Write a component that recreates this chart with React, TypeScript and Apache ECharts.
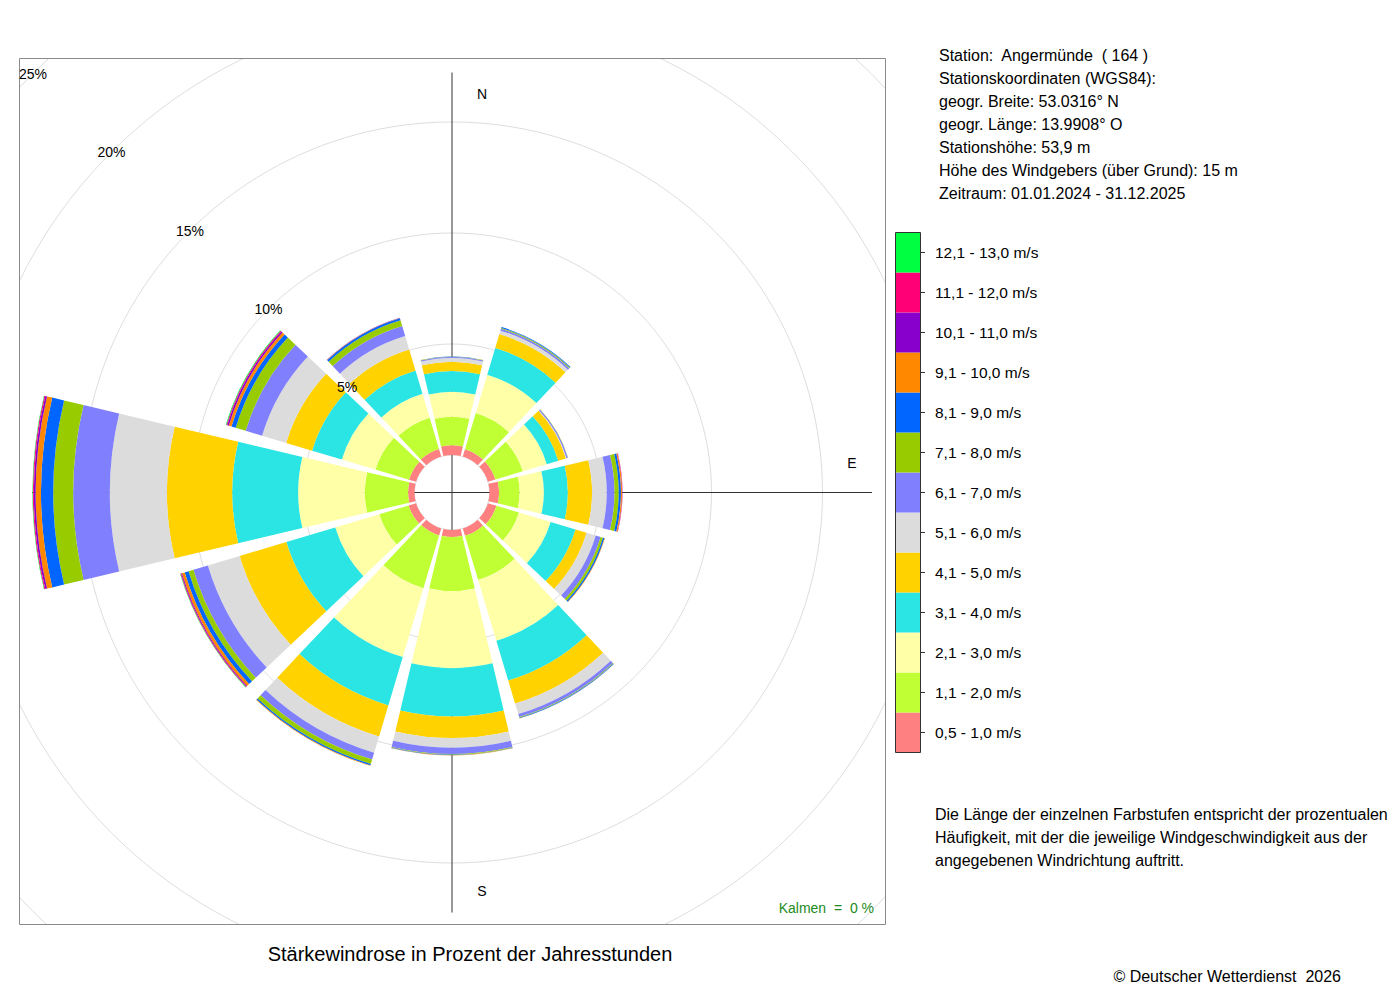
import React, { useEffect, useRef } from "react";
import * as echarts from "echarts";

// ---- data ----
const directions = ["N", "NNO", "ONO", "O", "OSO", "SSO", "S", "SSW", "WSW", "W", "WNW", "NNW"];

const speedLabels = [
  "0,5 - 1,0 m/s",
  "1,1 - 2,0 m/s",
  "2,1 - 3,0 m/s",
  "3,1 - 4,0 m/s",
  "4,1 - 5,0 m/s",
  "5,1 - 6,0 m/s",
  "6,1 - 7,0 m/s",
  "7,1 - 8,0 m/s",
  "8,1 - 9,0 m/s",
  "9,1 - 10,0 m/s",
  "10,1 - 11,0 m/s",
  "11,1 - 12,0 m/s",
  "12,1 - 13,0 m/s",
];

const speedColors = [
  "#FF8080",
  "#BFFF33",
  "#FFFFA8",
  "#2BE5E5",
  "#FFD200",
  "#DCDCDC",
  "#8080FF",
  "#99CC00",
  "#0066FF",
  "#FF8800",
  "#8800CC",
  "#FF0077",
  "#00FF40",
];

// percent of hours per direction (N, NNO, ONO, O, OSO, SSO, S, SSW, WSW, W, WNW, NNW)
const v05_10 = [0.44, 0.35, 0.35, 0.43, 0.4, 0.35, 0.31, 0.33, 0.35, 0.29, 0.33, 0.36];
const v11_20 = [1.28, 1.7, 1.29, 0.93, 1.06, 2.07, 2.44, 2.48, 1.38, 1.95, 1.58, 1.46];
const v21_30 = [1.13, 1.8, 1.13, 1.09, 1.49, 2.86, 3.47, 3.24, 2.07, 3.0, 1.58, 1.13];
const v31_40 = [0.93, 1.26, 0.54, 1.08, 1.17, 1.87, 2.18, 2.27, 2.3, 2.97, 1.4, 1.1];
const v41_50 = [0.42, 0.65, 0.36, 1.09, 0.52, 1.08, 0.97, 1.46, 2.2, 2.94, 1.22, 0.99];
const v51_60 = [0.18, 0.16, 0.03, 0.66, 0.43, 0.5, 0.43, 0.77, 1.49, 2.57, 1.13, 0.63];
const v61_70 = [0.04, 0.09, 0.06, 0.35, 0.23, 0.14, 0.29, 0.32, 0.68, 1.65, 0.77, 0.47];
const v71_80 = [0.02, 0.04, 0.01, 0.19, 0.11, 0.03, 0.03, 0.2, 0.23, 0.9, 0.47, 0.27];
const v81_90 = [0.01, 0.04, 0.0, 0.1, 0.07, 0.03, 0.02, 0.07, 0.18, 0.55, 0.2, 0.09];
const v91_100 = [0, 0, 0, 0.05, 0.02, 0.01, 0.01, 0.02, 0.13, 0.24, 0.13, 0.02];
const v101_110 = [0, 0, 0, 0.01, 0, 0, 0, 0, 0.04, 0.08, 0.07, 0.01];
const v111_120 = [0, 0, 0, 0.01, 0, 0, 0, 0, 0.03, 0.045, 0.04, 0];
const v121_130 = [0, 0, 0, 0, 0, 0, 0, 0, 0.02, 0.02, 0.03, 0];

const speedSeries = [
  v05_10, v11_20, v21_30, v31_40, v41_50, v51_60, v61_70,
  v71_80, v81_90, v91_100, v101_110, v111_120, v121_130,
];

const percentTicks = [5, 10, 15, 20, 25];

const stationLines = [
  "Station:  Angermünde  ( 164 )",
  "Stationskoordinaten (WGS84):",
  "geogr. Breite: 53.0316° N",
  "geogr. Länge: 13.9908° O",
  "Stationshöhe: 53,9 m",
  "Höhe des Windgebers (über Grund): 15 m",
  "Zeitraum: 01.01.2024 - 31.12.2025",
];

const noteLines = [
  "Die Länge der einzelnen Farbstufen entspricht der prozentualen",
  "Häufigkeit, mit der die jeweilige Windgeschwindigkeit aus der",
  "angegebenen Windrichtung auftritt.",
];

// ---- layout ----
const CX = 452;
const CY = 492.5;
const R0 = 37.5;
const PX_PER_PCT = 22.2;
const RMAX = 25;
const FONT = '"Liberation Sans", Arial, Helvetica, sans-serif';

function txt(text: string, x: number, y: number, size: number, align = "left", fill = "#000", z = 60) {
  return {
    type: "text",
    z,
    x,
    y,
    silent: true,
    style: {
      text,
      fill,
      fontSize: size,
      fontFamily: FONT,
      textAlign: align,
      align,
      textVerticalAlign: "middle",
      verticalAlign: "middle",
    },
  };
}

export default function App() {
  const ref = useRef<HTMLDivElement>(null);

  useEffect(() => {
    if (!ref.current) return;
    const chart = echarts.init(ref.current, null, { renderer: "svg" });

    const graphics: any[] = [];

    // axis cross (below bars)
    const AX = 420;
    graphics.push({
      type: "line", z: 1, silent: true,
      shape: { x1: CX, y1: CY - AX, x2: CX, y2: CY + AX },
      style: { stroke: "#333", lineWidth: 1 },
    });
    graphics.push({
      type: "line", z: 1, silent: true,
      shape: { x1: CX - AX, y1: CY, x2: CX + AX, y2: CY },
      style: { stroke: "#333", lineWidth: 1 },
    });
    graphics.push(txt("N", CX + 30, CY - 398.5, 14, "center", "#000", 1));
    graphics.push(txt("E", CX + 400, CY - 29.5, 14, "center", "#000", 1));
    graphics.push(txt("S", CX + 30, CY + 398.5, 14, "center", "#000", 1));

    // clip outside plot box
    const BX = 19.5, BY = 58.5, BW = 866, BH = 866;
    const white = { fill: "#fff", stroke: null };
    graphics.push({ type: "rect", z: 50, silent: true, shape: { x: 0, y: 0, width: 1400, height: BY }, style: white });
    graphics.push({ type: "rect", z: 50, silent: true, shape: { x: 0, y: 0, width: BX, height: 1000 }, style: white });
    graphics.push({ type: "rect", z: 50, silent: true, shape: { x: BX + BW, y: 0, width: 1400, height: 1000 }, style: white });
    graphics.push({ type: "rect", z: 50, silent: true, shape: { x: 0, y: BY + BH, width: 1400, height: 200 }, style: white });
    graphics.push({
      type: "rect", z: 51, silent: true,
      shape: { x: BX, y: BY, width: BW, height: BH },
      style: { fill: null, stroke: "#8a8a8a", lineWidth: 1 },
    });

    // percent labels along NW diagonal
    percentTicks.forEach((p) => {
      const r = R0 + p * PX_PER_PCT;
      const a = (135 * Math.PI) / 180;
      graphics.push(txt(p + "%", CX + r * Math.cos(a), CY - r * Math.sin(a), 14, "center", "#000", 52));
    });

    // Station text
    stationLines.forEach((s, i) => graphics.push(txt(s, 939, 55 + i * 23, 16)));

    // Legend
    const LX = 895.5, LY = 232.5, LW = 25, LH = 40;
    const n = speedLabels.length;
    speedLabels.forEach((lab, i) => {
      const row = n - 1 - i;
      const y = LY + row * LH;
      graphics.push({
        type: "rect", z: 60, silent: true,
        shape: { x: LX, y, width: LW, height: LH },
        style: { fill: speedColors[i], stroke: null },
      });
      graphics.push({
        type: "line", z: 61, silent: true,
        shape: { x1: LX + LW, y1: y + LH / 2, x2: LX + LW + 4.5, y2: y + LH / 2 },
        style: { stroke: "#333", lineWidth: 1 },
      });
      graphics.push(txt(lab, 935, y + LH / 2, 15.5));
    });
    graphics.push({
      type: "rect", z: 61, silent: true,
      shape: { x: LX, y: LY, width: LW, height: LH * n },
      style: { fill: null, stroke: "#333", lineWidth: 1 },
    });

    // Notes
    noteLines.forEach((s, i) => graphics.push(txt(s, 935, 814 + i * 23, 16)));

    graphics.push(txt("Kalmen  =  0 %", 874, 908, 14, "right", "#228B22", 60));
    graphics.push(txt("Stärkewindrose in Prozent der Jahresstunden", 470, 954, 20, "center"));
    graphics.push(txt("© Deutscher Wetterdienst  2026", 1341, 976, 16, "right"));

    const option: any = {
      animation: false,
      backgroundColor: "#fff",
      polar: {
        center: [CX, CY],
        radius: [R0, R0 + PX_PER_PCT * RMAX],
      },
      angleAxis: {
        type: "category",
        data: directions,
        startAngle: 105,
        clockwise: true,
        boundaryGap: true,
        axisLine: { show: false },
        axisTick: { show: false },
        axisLabel: { show: false },
        splitLine: { show: false },
        splitArea: { show: false },
      },
      radiusAxis: {
        type: "value",
        min: 0,
        max: RMAX,
        interval: 5,
        axisLine: { show: false },
        axisTick: { show: false },
        axisLabel: { show: false },
        splitLine: { show: true, lineStyle: { color: "#dedede", width: 1 } },
      },
      series: speedSeries.map((data, i) => ({
        type: "bar",
        name: speedLabels[i],
        coordinateSystem: "polar",
        stack: "rose",
        data,
        barWidth: "89%",
        silent: true,
        z: 2,
        itemStyle: { color: speedColors[i] },
        emphasis: { disabled: true },
      })),
      graphic: { elements: graphics },
    };

    chart.setOption(option);
    return () => chart.dispose();
  }, []);

  return (
    <div
      ref={ref}
      style={{ position: "absolute", left: 0, top: 0, width: 1400, height: 1000, background: "#fff" }}
    />
  );
}
